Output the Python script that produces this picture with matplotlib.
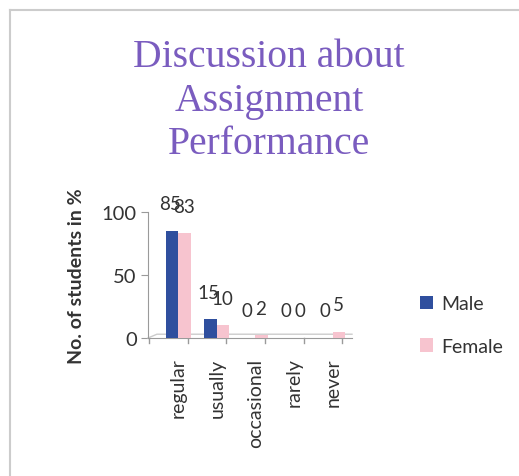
import matplotlib
matplotlib.use("Agg")
import matplotlib.pyplot as plt
from matplotlib.lines import Line2D
from matplotlib.patches import Patch
import numpy as np

categories = ["regular", "usually", "occasional", "rarely", "never"]
male = [85, 15, 0, 0, 0]
female = [83, 10, 2, 0, 5]
title = "Discussion about\nAssignment\nPerformance"
ylabel = "No. of students in %"
yticks = [0, 50, 100]

male_color = "#2f4f9e"
female_color = "#f7c4cf"
title_color = "#7a5cbf"
text_color = "#333333"
axis_color = "#9a9a9a"

fig = plt.figure(figsize=(5.19, 4.77), dpi=100)
fig.patch.set_facecolor("white")

# cropped frame border (top and left edges)
fig.add_artist(Line2D([10/519, 1.0], [1 - 11/477, 1 - 11/477], transform=fig.transFigure,
                      color="#cccccc", lw=1.5))
fig.add_artist(Line2D([10/519, 10/519], [0.0, 1 - 11/477], transform=fig.transFigure,
                      color="#cccccc", lw=1.5))

fig.text(269/519, 1 - 101/477, title, ha="center", va="center", color=title_color,
         family="Liberation Serif", fontsize=28.5, linespacing=1.24)

ax = fig.add_axes([148/519, 1 - 339/477, (352 - 148)/519, (339 - 213)/477])
x = np.arange(len(categories))
w = 0.32
ax.bar(x - w/2, male, width=w, color=male_color, zorder=3)
ax.bar(x + w/2, female, width=w, color=female_color, zorder=3)

for xi, v in zip(x, male):
    ax.text(xi - w/2 - 0.05, v + 21.5, str(v), ha="center", va="center",
            fontsize=13.5, color=text_color, family="Lato", clip_on=False)
for xi, v in zip(x, female):
    ax.text(xi + w/2 - 0.02, v + 21.5, str(v), ha="center", va="center",
            fontsize=13.5, color=text_color, family="Lato", clip_on=False)

ax.set_xlim(-0.78, 4.5)
ax.set_ylim(0, 100)
ax.set_yticks(yticks)
ax.set_yticklabels([str(t) for t in yticks], family="Lato", fontsize=14.5, color=text_color)
ax.set_xticks(x)
ax.set_xticklabels(categories, rotation=90, family="Lato", fontsize=14, color=text_color)
ax.tick_params(axis="x", length=0, pad=14)
ax.tick_params(axis="y", length=5, color=axis_color, pad=3)
for xb in np.arange(-0.5, 4.6, 1.0):
    ax.plot([xb - 0.25, xb - 0.25], [0, -4], color=axis_color, lw=1, clip_on=False)

for s in ["top", "right"]:
    ax.spines[s].set_visible(False)
ax.spines["left"].set_color(axis_color)
ax.spines["bottom"].set_color(axis_color)
ax.patch.set_alpha(0)

# floor back edge
ax.plot([-0.78, -0.55, 4.5], [0, 3, 3], color="#cccccc", lw=1, clip_on=False, zorder=2)

ax.set_ylabel(ylabel, family="Lato", fontsize=14, fontweight="bold", color=text_color, labelpad=12)

handles = [Patch(facecolor=male_color, edgecolor="none"), Patch(facecolor=female_color, edgecolor="none")]
fig.legend(handles, ["Male", "Female"], loc="center left",
           bbox_to_anchor=(402/519, 1 - 326/477), frameon=False,
           prop={"family": "Lato", "size": 14}, handlelength=0.7, handleheight=0.7,
           handletextpad=0.4, labelspacing=1.3, labelcolor=text_color)

fig.savefig("out.png", dpi=100, facecolor="white")
